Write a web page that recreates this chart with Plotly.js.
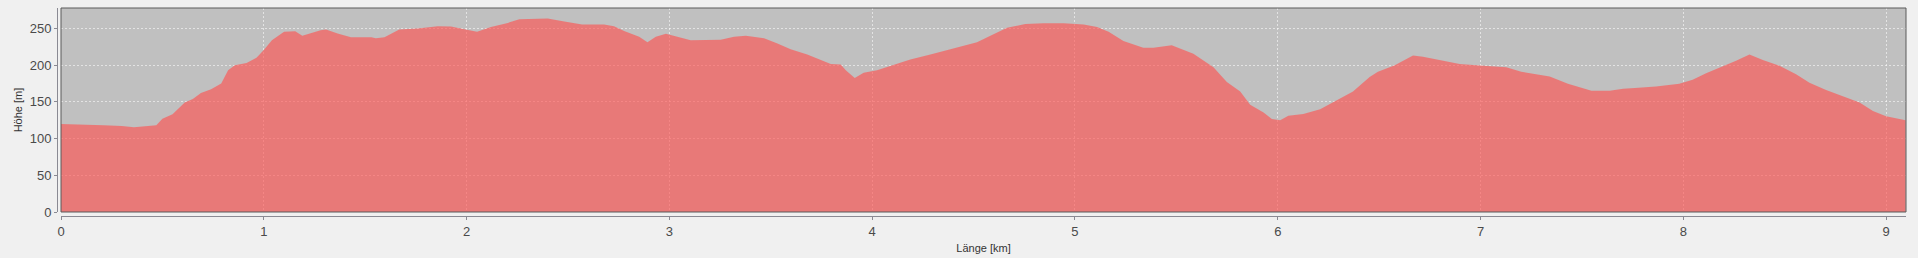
<!DOCTYPE html>
<html>
<head>
<meta charset="utf-8">
<script src="https://cdn.plot.ly/plotly-3.0.1.min.js"></script>
<style>
html,body{margin:0;padding:0;background:#f0f0f0;}
#chart{width:1918px;height:258px;}
</style>
</head>
<body>
<div id="chart"></div>
<script>
const distanceKm = [0.00,0.10,0.21,0.30,0.36,0.47,0.50,0.55,0.58,0.61,0.65,0.69,0.74,0.79,0.824,0.857,0.915,0.964,1.00,1.04,1.10,1.155,1.19,1.28,1.307,1.364,1.43,1.53,1.553,1.595,1.668,1.759,1.858,1.923,1.989,2.052,2.12,2.203,2.26,2.318,2.40,2.482,2.57,2.678,2.727,2.777,2.851,2.892,2.933,2.983,3.04,3.105,3.253,3.319,3.377,3.467,3.533,3.598,3.68,3.746,3.796,3.845,3.87,3.914,3.958,4.024,4.106,4.188,4.287,4.402,4.517,4.583,4.665,4.755,4.846,4.944,5.043,5.109,5.166,5.239,5.337,5.387,5.477,5.584,5.683,5.749,5.815,5.864,5.93,5.971,6.012,6.052,6.126,6.209,6.291,6.371,6.453,6.494,6.577,6.667,6.716,6.815,6.897,6.996,7.127,7.201,7.341,7.431,7.489,7.547,7.637,7.703,7.761,7.865,7.98,8.046,8.112,8.194,8.26,8.326,8.392,8.474,8.556,8.622,8.704,8.803,8.869,8.935,9.00,9.096];
const elevationM = [120,119.5,118,117,115.5,118,127,133,141,149,154,162,167,175,193,200,203,210,220.5,234,245.5,246,240,247.5,248.5,243,238,238,236.5,238,248.5,250,253,252.5,249,245.5,252,257.5,262.5,262.5,263.5,259.5,255.5,255.5,253,246.5,238.5,231,238.5,242.7,238.5,234,234.5,238.5,240,236.5,229.5,221.5,214.5,207,201.5,201,193,182.5,189.5,193,200,207.7,214.5,222.7,231,240,251,256,257,257,255.5,252,245.5,233,223.6,223.6,227,215.5,197,177,164,146,135.5,126.5,125,131,133.3,140,152,164,184,191,200,213,211.5,205.5,201.5,199.5,197,191,184.5,174.5,169.5,165,165,168,169,171,174.5,180,189,198,206,214.5,207,199,187.5,176,166,156,149,137.5,130.5,125];
const xTickVals = [0,1,2,3,4,5,6,7,8,9];
const yTickVals = [0,50,100,150,200,250];
const xTitle = 'Länge [km]';
const yTitle = 'Höhe [m]';

const W = 1918, H = 258;
const margin = {l:57, r:12, t:8, b:42};
const pw = W - margin.l - margin.r, ph = H - margin.t - margin.b;
const off = 4;

const trace = {
  x: distanceKm, y: elevationM, type: 'scatter', mode: 'lines',
  fill: 'tozeroy', fillcolor: 'rgba(255,82,80,0.64)',
  line: {width: 0, color: 'rgba(255,82,80,0.64)'},
  hoverinfo: 'skip'
};

const tickFont = {family: 'Liberation Sans, Arial, sans-serif', size: 13, color: '#4a4a4a'};
const titleFont = {family: 'Liberation Sans, Arial, sans-serif', size: 11, color: '#333'};

const layout = {
  width: W, height: H, margin: margin,
  paper_bgcolor: '#f0f0f0', plot_bgcolor: '#c0c0c0',
  showlegend: false,
  xaxis: {
    domain: [off/pw, 1], anchor: 'free', position: 0,
    range: [0, 9.098], tickvals: xTickVals, ticktext: xTickVals.map(String),
    showline: true, linecolor: '#8a8a93', linewidth: 1,
    ticks: 'outside', ticklen: 3, tickcolor: '#8a8a93',
    showgrid: true, gridcolor: 'rgba(255,255,255,0.55)', griddash: '2px,2px', gridwidth: 1,
    zeroline: false, tickfont: tickFont,
    title: {text: xTitle, font: titleFont, standoff: 6}
  },
  yaxis: {
    domain: [off/ph, 1], anchor: 'free', position: 0,
    range: [0, 277.8], tickvals: yTickVals, ticktext: yTickVals.map(String),
    showline: true, linecolor: '#8a8a93', linewidth: 1,
    ticks: 'outside', ticklen: 3, tickcolor: '#8a8a93',
    showgrid: true, gridcolor: 'rgba(255,255,255,0.55)', griddash: '2px,2px', gridwidth: 1,
    zeroline: false, tickfont: tickFont,
    title: {text: yTitle, font: titleFont, standoff: 3}
  },
  shapes: [{
    type: 'rect', xref: 'x domain', yref: 'y domain', x0: 0, x1: 1, y0: 0, y1: 1,
    line: {color: '#5a5a5a', width: 1}, layer: 'above'
  }]
};

Plotly.newPlot('chart', [trace], layout, {staticPlot: true, displayModeBar: false});
</script>
</body>
</html>
